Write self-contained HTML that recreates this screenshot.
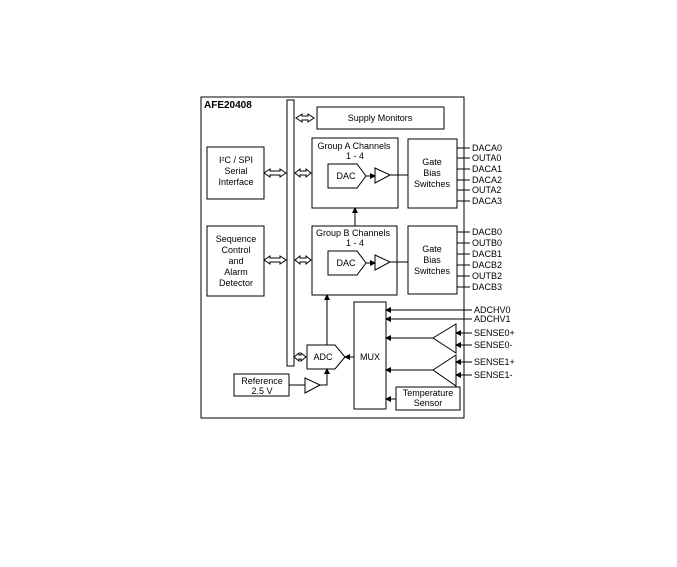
<!DOCTYPE html>
<html><head><style>body{margin:0;background:#fff}svg{display:block}text{font-family:"Liberation Sans",sans-serif;font-size:9px;fill:#000}</style></head>
<body>
<svg width="677" height="567" viewBox="0 0 677 567" xmlns="http://www.w3.org/2000/svg">
<defs><marker id="a" markerWidth="6" markerHeight="6" refX="5" refY="3" orient="auto" markerUnits="userSpaceOnUse"><path d="M0,0 L6,3 L0,6z" fill="#000"/></marker></defs>
<g fill="none" stroke="#000" stroke-width="1">
<rect x="201" y="97" width="263" height="321"/>
<rect x="287" y="100" width="7" height="266"/>
<rect x="317" y="107" width="127" height="22"/>
<rect x="312" y="138" width="86" height="70"/>
<rect x="408" y="139" width="49" height="69"/>
<rect x="207" y="147" width="57" height="52"/>
<rect x="312" y="226" width="85" height="69"/>
<rect x="408" y="226" width="49" height="68"/>
<rect x="207" y="226" width="57" height="70"/>
<rect x="354" y="302" width="32" height="107"/>
<rect x="234" y="374" width="55" height="22"/>
<rect x="396" y="387" width="64" height="23"/>
<path d="M328,164 H357 L366,176 L357,188 H328Z"/>
<path d="M328,251 H357 L366,263 L357,275 H328Z"/>
<path d="M375,168 L390,175 L375,183Z"/>
<path d="M375,255 L390,262 L375,270Z"/>
<line x1="366" y1="176" x2="375" y2="176" marker-end="url(#a)"/>
<line x1="366" y1="263" x2="375" y2="263" marker-end="url(#a)"/>
<line x1="390" y1="175" x2="408" y2="175"/>
<line x1="390" y1="262" x2="408" y2="262"/>
<path d="M307,345 H335 L345,357 L335,369 H307Z"/>
<path d="M305,378 L320,385 L305,393Z"/>
<line x1="289" y1="385" x2="305" y2="385"/>
<polyline points="320,385 327,385 327,369" marker-end="url(#a)"/>
<line x1="327" y1="345" x2="327" y2="295" marker-end="url(#a)"/>
<line x1="355" y1="226" x2="355" y2="208" marker-end="url(#a)"/>
<line x1="354" y1="357" x2="345" y2="357" marker-end="url(#a)"/>
<path d="M456,324 L433,338 L456,353Z"/>
<path d="M456,355 L433,370 L456,386Z"/>
<line x1="472" y1="310" x2="386" y2="310" marker-end="url(#a)"/>
<line x1="472" y1="319" x2="386" y2="319" marker-end="url(#a)"/>
<line x1="433" y1="338" x2="386" y2="338" marker-end="url(#a)"/>
<line x1="433" y1="370" x2="386" y2="370" marker-end="url(#a)"/>
<line x1="396" y1="399" x2="386" y2="399" marker-end="url(#a)"/>
<line x1="472" y1="333" x2="456" y2="333" marker-end="url(#a)"/>
<line x1="472" y1="345" x2="456" y2="345" marker-end="url(#a)"/>
<line x1="472" y1="362" x2="456" y2="362" marker-end="url(#a)"/>
<line x1="472" y1="375" x2="456" y2="375" marker-end="url(#a)"/>
<path d="M457,148h13M457,158h13M457,169h13M457,180h13M457,190h13M457,201h13M457,232h13M457,243h13M457,254h13M457,265h13M457,276h13M457,287h13"/>
</g>
<g fill="#fff" stroke="#000" stroke-width="1">
<path transform="translate(305,118)" d="M-3,-2 H3 V-4 L9,0 L3,4 V2 H-3 V4 L-9,0 L-3,-4Z"/>
<path transform="translate(303,173)" d="M-3,-2 H3 V-4 L8,0 L3,4 V2 H-3 V4 L-8,0 L-3,-4Z"/>
<path transform="translate(303,260)" d="M-3,-2 H3 V-4 L8,0 L3,4 V2 H-3 V4 L-8,0 L-3,-4Z"/>
<path transform="translate(300,357)" d="M-1,-2 H1 V-4 L6,0 L1,4 V2 H-1 V4 L-6,0 L-1,-4Z"/>
<path transform="translate(275,173)" d="M-5,-2 H5 V-4 L11,0 L5,4 V2 H-5 V4 L-11,0 L-5,-4Z"/>
<path transform="translate(275,260)" d="M-5,-2 H5 V-4 L11,0 L5,4 V2 H-5 V4 L-11,0 L-5,-4Z"/>
</g>
<text x="204" y="108" style="font-weight:bold;font-size:10px">AFE20408</text>
<g text-anchor="middle">
<text x="380" y="121">Supply Monitors</text>
<text x="354" y="149">Group A Channels</text><text x="355" y="159">1 - 4</text>
<text x="353" y="236">Group B Channels</text><text x="355" y="246">1 - 4</text>
<text x="346" y="179">DAC</text><text x="346" y="266">DAC</text>
<text x="432" y="165">Gate</text><text x="432" y="176">Bias</text><text x="432" y="187">Switches</text>
<text x="432" y="252">Gate</text><text x="432" y="263">Bias</text><text x="432" y="274">Switches</text>
<text x="236" y="163">I²C / SPI</text><text x="236" y="174">Serial</text><text x="236" y="185">Interface</text>
<text x="236" y="242">Sequence</text><text x="236" y="253">Control</text><text x="236" y="264">and</text><text x="236" y="275">Alarm</text><text x="236" y="286">Detector</text>
<text x="323" y="360">ADC</text>
<text x="370" y="360">MUX</text>
<text x="262" y="384">Reference</text><text x="262" y="394">2.5 V</text>
<text x="428" y="396">Temperature</text><text x="428" y="406">Sensor</text>
</g>
<g>
<text x="472" y="151">DACA0</text><text x="472" y="161">OUTA0</text><text x="472" y="172">DACA1</text><text x="472" y="183">DACA2</text><text x="472" y="193">OUTA2</text><text x="472" y="204">DACA3</text>
<text x="472" y="235">DACB0</text><text x="472" y="246">OUTB0</text><text x="472" y="257">DACB1</text><text x="472" y="268">DACB2</text><text x="472" y="279">OUTB2</text><text x="472" y="290">DACB3</text>
<text x="474" y="313">ADCHV0</text><text x="474" y="322">ADCHV1</text>
<text x="474" y="336">SENSE0+</text><text x="474" y="348">SENSE0-</text>
<text x="474" y="365">SENSE1+</text><text x="474" y="378">SENSE1-</text>
</g>
</svg>
</body></html>
